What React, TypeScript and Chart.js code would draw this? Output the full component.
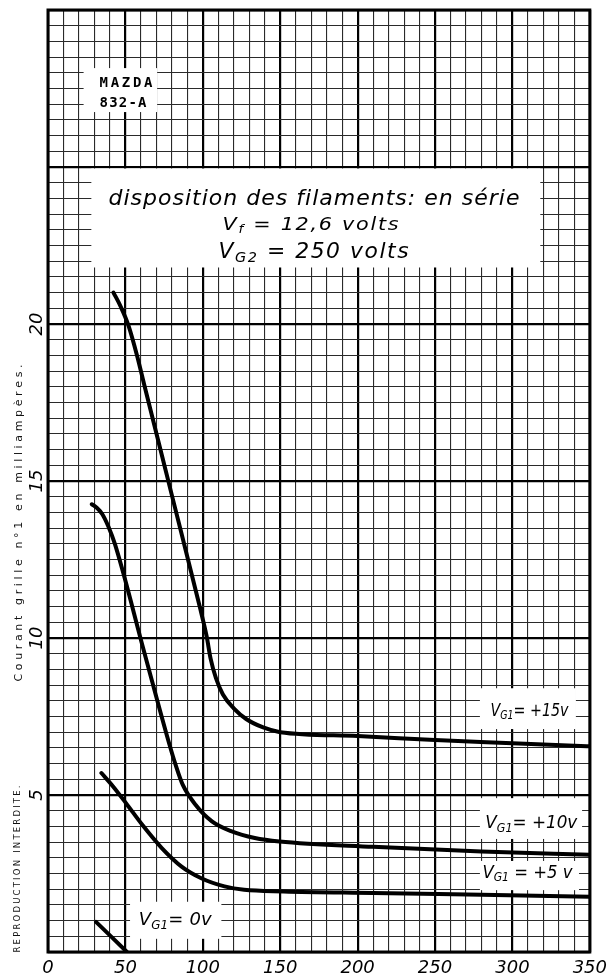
import { useEffect, useRef } from "react";
import { Chart, registerables } from "chart.js";

Chart.register(...registerables);

// ---------- data ----------
const X_MIN = 0;
const X_MAX = 350;
const Y_MIN = 0;
const Y_MAX = 30;
const X_LABELED_TICKS = [0, 50, 100, 150, 200, 250, 300, 350];
const Y_LABELED_TICKS = [5, 10, 15, 20];

const SERIES_NAMES = ["VG1 = +15v", "VG1 = +10v", "VG1 = +5v", "VG1 = 0v"];

const VG15_V = [42.3, 47, 52, 57.5, 62, 80, 98, 102.5, 105, 108.5, 113, 120, 128, 139, 150, 200, 250, 300, 350];
const VG15_MA = [21.0, 20.55, 19.95, 19.0, 18.1, 14.55, 11.0, 10.05, 9.35, 8.72, 8.2, 7.76, 7.42, 7.15, 7.0, 6.88, 6.75, 6.65, 6.55];

const VG10_V = [28.3, 31.5, 35, 39, 43.3, 62, 78.5, 82.5, 87, 95.3, 105.9, 118.7, 133.6, 149.5, 210, 280, 350];
const VG10_MA = [14.26, 14.15, 13.95, 13.55, 12.98, 9.58, 6.6, 5.95, 5.33, 4.69, 4.16, 3.84, 3.63, 3.52, 3.35, 3.2, 3.1];

const VG5_V = [34.5, 41.9, 50.4, 60.9, 73.5, 86.3, 99, 114, 126.7, 152.3, 210, 280, 350];
const VG5_MA = [5.7, 5.28, 4.74, 4.05, 3.31, 2.72, 2.35, 2.09, 1.98, 1.93, 1.88, 1.82, 1.76];

const VG0_V = [31, 51];
const VG0_MA = [0.96, 0];

const Y_TITLE = "Courant grille n°1 en milliampères.";
const SIDE_NOTE = "REPRODUCTION INTERDITE.";

// ---------- annotation layout (data units) ----------
type Seg = { t: string; sub?: boolean };
type NoteText = {
  segs: Seg[];
  v: number;
  m: number;
  size: number;
  width: number;
  align: "center" | "left";
  font: string;
  family: string;
  maxSpacing: number;
};

const ITALIC_FAMILY = "'DejaVu Sans', 'Liberation Sans', sans-serif";
const MONO_FAMILY = "'DejaVu Sans Mono', 'Liberation Mono', monospace";

const WHITE_BOXES = [
  { v0: 28, v1: 318, m0: 21.8, m1: 25 },
  { v0: 23, v1: 70.5, m0: 26.75, m1: 28.15 },
  { v0: 279, v1: 341, m0: 7.1, m1: 8.4 },
  { v0: 279, v1: 345, m0: 3.6, m1: 4.9 },
  { v0: 279, v1: 343, m0: 1.97, m1: 2.9 },
  { v0: 53, v1: 112, m0: 0.42, m1: 1.6 },
];

const NOTE_TEXTS: NoteText[] = [
  { segs: [{ t: "disposition des filaments: en série" }], v: 171.8, m: 23.79, size: 22, width: 411, align: "center", font: "italic 400", family: ITALIC_FAMILY, maxSpacing: 1.5 },
  { segs: [{ t: "V" }, { t: "f", sub: true }, { t: " = 12,6 volts" }], v: 169.6, m: 23.0, size: 18, width: 176, align: "center", font: "italic 400", family: ITALIC_FAMILY, maxSpacing: 1.5 },
  { segs: [{ t: "V" }, { t: "G2", sub: true }, { t: " = 250 volts" }], v: 171.5, m: 22.1, size: 21, width: 190, align: "center", font: "italic 400", family: ITALIC_FAMILY, maxSpacing: 1.5 },
  { segs: [{ t: "MAZDA" }], v: 33.3, m: 27.55, size: 14, width: 53, align: "left", font: "normal 700", family: MONO_FAMILY, maxSpacing: 4 },
  { segs: [{ t: "832-A" }], v: 33.3, m: 26.91, size: 14, width: 47, align: "left", font: "normal 700", family: MONO_FAMILY, maxSpacing: 4 },
  { segs: [{ t: "V" }, { t: "G1", sub: true }, { t: "= +15v" }], v: 311, m: 7.52, size: 18, width: 78, align: "center", font: "italic 400", family: ITALIC_FAMILY, maxSpacing: 1.5 },
  { segs: [{ t: "V" }, { t: "G1", sub: true }, { t: "= +10v" }], v: 312.2, m: 3.95, size: 18, width: 92, align: "center", font: "italic 400", family: ITALIC_FAMILY, maxSpacing: 1.5 },
  { segs: [{ t: "V" }, { t: "G1", sub: true }, { t: " = +5 v" }], v: 309.7, m: 2.36, size: 18, width: 90, align: "center", font: "italic 400", family: ITALIC_FAMILY, maxSpacing: 1.5 },
  { segs: [{ t: "V" }, { t: "G1", sub: true }, { t: "= 0v" }], v: 82.2, m: 0.86, size: 18, width: 73, align: "center", font: "italic 400", family: ITALIC_FAMILY, maxSpacing: 1.5 },
];

// ---------- helpers ----------
function drawSegs(ctx: CanvasRenderingContext2D, nt: NoteText, px: number, py: number) {
  const subSize = nt.size * 0.66;
  const fMain = `${nt.font} ${nt.size}px ${nt.family}`;
  const fSub = `${nt.font} ${subSize}px ${nt.family}`;
  const chars: { c: string; sub: boolean; w: number }[] = [];
  for (const s of nt.segs) {
    ctx.font = s.sub ? fSub : fMain;
    for (const c of Array.from(s.t)) {
      chars.push({ c, sub: !!s.sub, w: ctx.measureText(c).width });
    }
  }
  const n = chars.length;
  const natural = chars.reduce((a, b) => a + b.w, 0);
  let spacing = 0;
  let k = 1;
  if (natural > nt.width) {
    k = nt.width / natural;
  } else {
    spacing = n > 1 ? Math.min(nt.maxSpacing, (nt.width - natural) / (n - 1)) : 0;
    const afterSpacing = natural + spacing * (n - 1);
    k = Math.min(1.35, nt.width / afterSpacing);
  }
  const total = (natural + spacing * (n - 1)) * k;
  ctx.save();
  const startX = nt.align === "center" ? px - total / 2 : px;
  ctx.translate(startX, py);
  ctx.scale(k, 1);
  ctx.textAlign = "left";
  ctx.textBaseline = "alphabetic";
  ctx.fillStyle = "#000";
  let x = 0;
  for (const ch of chars) {
    ctx.font = ch.sub ? fSub : fMain;
    ctx.fillText(ch.c, x, ch.sub ? nt.size * 0.2 : 0);
    x += ch.w + spacing;
  }
  ctx.restore();
}

function drawRotatedSpaced(
  ctx: CanvasRenderingContext2D,
  text: string,
  baselineX: number,
  centerY: number,
  span: number,
  font: string
) {
  ctx.save();
  ctx.font = font;
  const chars = Array.from(text).map((c) => ({ c, w: ctx.measureText(c).width }));
  const natural = chars.reduce((a, b) => a + b.w, 0);
  const spacing = Math.max(0, (span - natural) / (chars.length - 1));
  ctx.translate(baselineX, centerY);
  ctx.rotate(-Math.PI / 2);
  ctx.textAlign = "left";
  ctx.textBaseline = "alphabetic";
  ctx.fillStyle = "#111";
  let x = -span / 2;
  for (const ch of chars) {
    ctx.fillText(ch.c, x, 0);
    x += ch.w + spacing;
  }
  ctx.restore();
}

const paperPlugin = {
  id: "paperPlugin",
  beforeDatasetsDraw(chart: any) {
    const ctx: CanvasRenderingContext2D = chart.ctx;
    const xs = chart.scales.x;
    const ys = chart.scales.y;
    ctx.save();
    ctx.fillStyle = "#fff";
    for (const b of WHITE_BOXES) {
      const x0 = xs.getPixelForValue(b.v0);
      const x1 = xs.getPixelForValue(b.v1);
      let y0 = ys.getPixelForValue(b.m1);
      const y1 = ys.getPixelForValue(b.m0);
      if (b.m1 % 5 === 0) y0 += 1.5;
      ctx.fillRect(x0, y0, x1 - x0, y1 - y0);
    }
    for (const nt of NOTE_TEXTS) {
      drawSegs(ctx, nt, xs.getPixelForValue(nt.v), ys.getPixelForValue(nt.m));
    }
    ctx.restore();
  },
  afterDraw(chart: any) {
    const ctx: CanvasRenderingContext2D = chart.ctx;
    const a = chart.chartArea;
    const ys = chart.scales.y;
    ctx.save();
    ctx.strokeStyle = "#000";
    ctx.lineWidth = 3;
    ctx.strokeRect(a.left, a.top, a.right - a.left, a.bottom - a.top);
    ctx.fillStyle = "#000";
    ctx.font = `italic 18px ${ITALIC_FAMILY}`;
    for (const v of Y_LABELED_TICKS) {
      const y = ys.getPixelForValue(v);
      ctx.save();
      ctx.translate(41.5, y);
      ctx.rotate(-Math.PI / 2);
      ctx.textAlign = "center";
      ctx.textBaseline = "alphabetic";
      ctx.fillText(String(v), 0, 0);
      ctx.restore();
    }
    drawRotatedSpaced(ctx, Y_TITLE, 22, 523, 317, "11px 'DejaVu Sans', sans-serif");
    drawRotatedSpaced(ctx, SIDE_NOTE, 20, 869, 167, "8.5px 'DejaVu Sans', sans-serif");
    ctx.restore();
  },
};

function pts(xs: number[], ys: number[]) {
  return xs.map((x, i) => ({ x, y: ys[i] }));
}

export default function App() {
  const ref = useRef<HTMLCanvasElement>(null);
  useEffect(() => {
    document.body.style.margin = "0";
    const canvas = ref.current;
    if (!canvas) return;
    const seriesData = [pts(VG15_V, VG15_MA), pts(VG10_V, VG10_MA), pts(VG5_V, VG5_MA), pts(VG0_V, VG0_MA)];
    const chart = new Chart(canvas, {
      type: "line",
      data: {
        datasets: seriesData.map((d, i) => ({
          label: SERIES_NAMES[i],
          data: d,
          borderColor: "#000",
          backgroundColor: "#000",
          borderWidth: 4,
          pointRadius: 0,
          fill: false,
          cubicInterpolationMode: "monotone" as const,
          borderCapStyle: "round" as const,
          borderJoinStyle: "round" as const,
        })),
      },
      options: {
        responsive: false,
        animation: false,
        devicePixelRatio: 1,
        layout: { padding: { top: 10, right: 18, left: 0, bottom: 0 } },
        plugins: { legend: { display: false }, tooltip: { enabled: false } },
        scales: {
          x: {
            type: "linear",
            min: X_MIN,
            max: X_MAX,
            afterFit: (s: any) => {
              s.height = 26;
            },
            border: { display: false },
            grid: {
              drawTicks: false,
              color: (c: any) => (c.tick && c.tick.value % 50 === 0 ? "#000" : "#2a2a2a"),
              lineWidth: (c: any) => (c.tick && c.tick.value % 50 === 0 ? 2.2 : 1.1),
            },
            ticks: {
              stepSize: 10,
              autoSkip: false,
              maxRotation: 0,
              minRotation: 0,
              padding: 6,
              color: "#000",
              font: { family: ITALIC_FAMILY, size: 18, style: "italic" },
              callback: (v: any) => (X_LABELED_TICKS.includes(Number(v)) ? String(v) : ""),
            },
          },
          y: {
            type: "linear",
            min: Y_MIN,
            max: Y_MAX,
            afterFit: (s: any) => {
              s.width = 48;
            },
            border: { display: false },
            grid: {
              drawTicks: false,
              color: (c: any) => (c.tick && c.tick.value % 5 === 0 ? "#000" : "#2a2a2a"),
              lineWidth: (c: any) => (c.tick && c.tick.value % 5 === 0 ? 2.2 : 1.1),
            },
            ticks: {
              stepSize: 0.5,
              display: false,
            },
          },
        },
      },
      plugins: [paperPlugin],
    } as any);
    return () => chart.destroy();
  }, []);
  return (
    <div style={{ width: 613, height: 978, background: "#fff" }}>
      <canvas ref={ref} width={613} height={978} style={{ display: "block" }} />
    </div>
  );
}
